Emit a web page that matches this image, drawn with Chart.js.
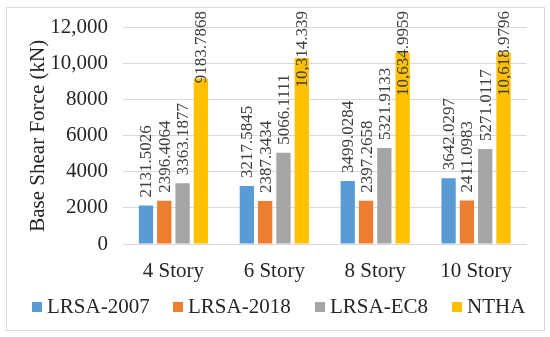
<!DOCTYPE html>
<html>
<head>
<meta charset="utf-8">
<script src="https://cdn.jsdelivr.net/npm/chart.js@4"></script>
<style>
    html, body { margin: 0; padding: 0; background: #ffffff; }
    #wrap { position: relative; width: 550px; height: 337px; }
    #frame { position: absolute; left: 6px; top: 7px; width: 537px; height: 322px; border: 1px solid #d9d9d9; }
    canvas { position: absolute; left: 0; top: 0; }
    #legend { position: absolute; left: 0; top: 293px; width: 550px; height: 26px;
              font: 21px 'Liberation Serif', 'Times New Roman', serif; color: #262626; }
    #legend .item { position: absolute; top: 0; line-height: 26px; white-space: nowrap; }
    #legend .box { display: inline-block; width: 10px; height: 10px; margin-right: 5px; vertical-align: 1px; }
</style>
</head>
<body>
<div id="wrap">
    <div id="frame"></div>
    <canvas id="shearChart" width="550" height="337"></canvas>
    <div id="legend"></div>
</div>
<script>
// Chart data
const categories = ['4 Story', '6 Story', '8 Story', '10 Story'];
const seriesNames = ['LRSA-2007', 'LRSA-2018', 'LRSA-EC8', 'NTHA'];
const lrsa2007 = [2131.5026, 3217.5845, 3499.0284, 3642.0297];
const lrsa2018 = [2396.4064, 2387.3434, 2397.2658, 2411.0983];
const lrsaEc8 = [3363.1877, 5066.1111, 5321.9133, 5271.0117];
const ntha = [9183.7868, 10314.339, 10634.9959, 10618.9796];
const yTicks = [0, 2000, 4000, 6000, 8000, 10000, 12000];
const yTickLabels = ['0', '2000', '4000', '6000', '8000', '10,000', '12,000'];

const colors = ['#5b9bd5', '#ed7d31', '#a5a5a5', '#ffc000'];
const serif = "'Liberation Serif', 'Times New Roman', serif";

function fmt(v) {
    return v >= 10000 ? v.toLocaleString('en-US', { maximumFractionDigits: 4 }) : String(v);
}

// Rotated value labels above each bar, pushed down when they would run off the top
const barLabels = {
    id: 'barLabels',
    afterDatasetsDraw(chart) {
        const ctx = chart.ctx;
        ctx.save();
        ctx.font = '17px ' + serif;
        ctx.fillStyle = '#404040';
        ctx.textAlign = 'left';
        ctx.textBaseline = 'middle';
        chart.data.datasets.forEach((ds, di) => {
            chart.getDatasetMeta(di).data.forEach((bar, i) => {
                const txt = fmt(ds.data[i]);
                const w = ctx.measureText(txt).width;
                let start = bar.y - 8;
                if (start - w < 11) start = 11 + w;
                ctx.save();
                ctx.translate(bar.x, start);
                ctx.rotate(-Math.PI / 2);
                ctx.fillText(txt, 0, 1);
                ctx.restore();
            });
        });
        ctx.restore();
    }
};

const chart = new Chart(document.getElementById('shearChart').getContext('2d'), {
    type: 'bar',
    data: {
        labels: categories,
        datasets: [lrsa2007, lrsa2018, lrsaEc8, ntha].map((d, i) => ({
            label: seriesNames[i],
            data: d,
            backgroundColor: colors[i],
            categoryPercentage: 0.726,
            barPercentage: 0.78
        }))
    },
    options: {
        responsive: false,
        animation: false,
        layout: { padding: { top: 26, left: 0, right: 23.5, bottom: 48 } },
        plugins: {
            legend: { display: false },
            tooltip: { enabled: false }
        },
        scales: {
            x: {
                grid: { display: false },
                border: { display: false },
                ticks: { color: '#262626', padding: 7, font: { family: serif, size: 21 } },
                afterFit(scale) { scale.height = 45; }
            },
            y: {
                min: 0,
                max: 12000,
                afterBuildTicks(scale) { scale.ticks = yTicks.map(v => ({ value: v })); },
                grid: { color: '#d9d9d9', drawTicks: false },
                border: { display: false },
                ticks: {
                    color: '#262626',
                    padding: 15,
                    font: { family: serif, size: 21 },
                    callback: (v, i) => yTickLabels[i]
                },
                title: {
                    display: true,
                    text: 'Base Shear Force (kN)',
                    color: '#262626',
                    padding: { top: 26, bottom: 0 },
                    font: { family: serif, size: 21 }
                },
                afterFit(scale) { scale.width = 123; }
            }
        }
    },
    plugins: [barLabels]
});

// Legend as text below the chart, built from the dataset names and colours
const legendX = [32, 173, 315, 452];
const legend = document.getElementById('legend');
chart.data.datasets.forEach((ds, i) => {
    const item = document.createElement('span');
    item.className = 'item';
    item.style.left = legendX[i] + 'px';
    const box = document.createElement('span');
    box.className = 'box';
    box.style.background = ds.backgroundColor;
    item.appendChild(box);
    item.appendChild(document.createTextNode(ds.label));
    legend.appendChild(item);
});
</script>
</body>
</html>
